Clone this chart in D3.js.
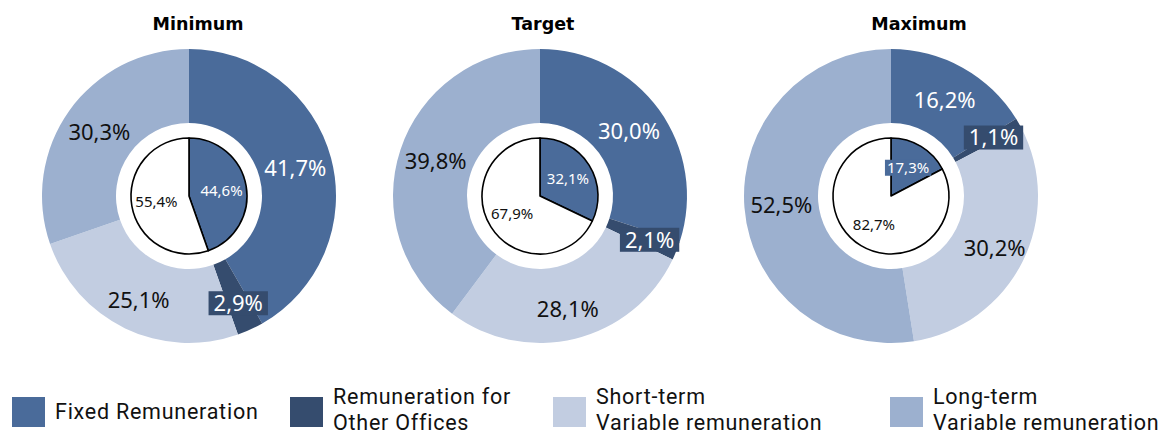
<!DOCTYPE html>
<html>
<head>
<meta charset="utf-8">
<script src="https://cdn.jsdelivr.net/npm/d3@7"></script>
<style>
  body { margin: 0; background: #fff; }
  text { font-family: 'Noto Sans', 'Open Sans', sans-serif; }
  .titulo { font-family: 'DejaVu Sans', Verdana, sans-serif; font-weight: bold; font-size: 17.5px; }
  .leyenda text { font-family: Roboto, 'Noto Sans', sans-serif; font-size: 21.5px; letter-spacing: 0.75px; }
</style>
</head>
<body>
<div id="graf"></div>
<script>
// I. Datos
categories = ['Fixed Remuneration', 'Remuneration for Other Offices',
              'Short-term Variable remuneration', 'Long-term Variable remuneration']
scenarios = ['Minimum', 'Target', 'Maximum']

minimumValues = [41.7, 2.9, 25.1, 30.3]
targetValues  = [30.0, 2.1, 28.1, 39.8]
maximumValues = [16.2, 1.1, 30.2, 52.5]

// inner pie: fixed share (fixed + other offices) vs variable share
fixedShare    = [44.6, 32.1, 17.3]
variableShare = [55.4, 67.9, 82.7]

legendLines = [['Fixed Remuneration'],
               ['Remuneration for', 'Other Offices'],
               ['Short-term', 'Variable remuneration'],
               ['Long-term', 'Variable remuneration']]

// II. Configuracion
ancho_total = 1166
alto_total = 436

colores = ['#4a6b9a', '#354c6e', '#c2cde1', '#9cb0cf']
color = d3.scaleOrdinal().domain(categories).range(colores)

rOuter = 147
rInner = 73
rPie = 58
cy = 196
labelRadius = [110, 118, 116, 110]   // per category, ring label distance from centre
titleDx = [9, 3, 28]
legendX = [12, 290, 553, 890]

x = d3.scalePoint()
      .domain(scenarios)
      .range([189, 891])

fmt = d3.formatLocale({ decimal: ',', thousands: '.', grouping: [3], currency: ['', ''] })
        .format('.1f')
pct = v => fmt(v) + '%'

svg = d3.select('#graf').append('svg')
        .attr('width', ancho_total)
        .attr('height', alto_total)
        .style('display', 'block')

pie = d3.pie().sort(null).value(d => d)
ringArc = d3.arc().innerRadius(rInner).outerRadius(rOuter)
pieArc = d3.arc().innerRadius(0).outerRadius(rPie)
pieLabelArc = d3.arc().innerRadius(0).outerRadius(66)

series = [minimumValues, targetValues, maximumValues]

// III. Dibujo
scenarios.forEach((sc, i) => {
  g = svg.append('g')
         .attr('transform', `translate(${ x(sc) }, ${ cy })`)

  svg.append('text')
     .attr('class', 'titulo')
     .attr('x', x(sc) + titleDx[i])
     .attr('y', 30)
     .attr('text-anchor', 'middle')
     .attr('fill', '#000')
     .text(sc)

  arcs = pie(series[i]).map((a, k) => Object.assign(a, { cat: categories[k], k: k }))

  g.selectAll('path.ring')
   .data(arcs)
   .enter()
   .append('path')
     .attr('class', 'ring')
     .attr('d', ringArc)
     .attr('fill', d => color(d.cat))

  // ring labels
  arcs.forEach(d => {
    mid = (d.startAngle + d.endAngle) / 2
    lx = Math.sin(mid) * labelRadius[d.k]
    ly = -Math.cos(mid) * labelRadius[d.k]
    t = g.append('text')
         .attr('x', lx)
         .attr('y', ly)
         .attr('dy', '0.36em')
         .attr('text-anchor', 'middle')
         .style('font-size', '22px')
         .attr('fill', d.k < 2 ? '#fff' : '#111')
         .text(pct(d.value))
    if (d.k == 1) {
      bb = t.node().getBBox()
      g.insert('rect', () => t.node())
       .attr('x', bb.x - 5)
       .attr('y', ly - 12)
       .attr('width', bb.width + 10)
       .attr('height', 24)
       .attr('fill', color(d.cat))
    }
  })

  // inner pie
  inner = pie([fixedShare[i], variableShare[i]])
  g.selectAll('path.inner')
   .data(inner)
   .enter()
   .append('path')
     .attr('class', 'inner')
     .attr('d', pieArc)
     .attr('fill', (d, k) => k == 0 ? color(categories[0]) : '#fff')
     .attr('stroke', '#000')
     .attr('stroke-width', 1.6)
     .attr('stroke-linejoin', 'round')

  inner.forEach((d, k) => {
    c = pieLabelArc.centroid(d)
    t = g.append('text')
         .attr('x', c[0])
         .attr('y', c[1])
         .attr('dy', '0.36em')
         .attr('text-anchor', 'middle')
         .style('font-size', '15px')
         .attr('fill', k == 0 ? '#fff' : '#111')
         .text(pct(d.value))
    // small fixed slice: the label spills over the edge, give it a backing box
    if (k == 0 && d.value < 20) {
      bb = t.node().getBBox()
      g.insert('rect', () => t.node())
       .attr('x', bb.x - 2)
       .attr('y', c[1] - 8)
       .attr('width', bb.width + 4)
       .attr('height', 16)
       .attr('fill', color(categories[0]))
    }
  })
})

// IV. Leyenda
leyenda = svg.append('g').attr('class', 'leyenda')

categories.forEach((cat, i) => {
  item = leyenda.append('g')
                .attr('transform', `translate(${ legendX[i] }, 0)`)
  item.append('rect')
      .attr('x', 0)
      .attr('y', 397)
      .attr('width', 33)
      .attr('height', 30)
      .attr('fill', color(cat))
  lines = legendLines[i]
  first = lines.length == 1 ? 419 : 404
  lines.forEach((ln, j) => {
    item.append('text')
        .attr('x', 43)
        .attr('y', first + j * 25.5)
        .attr('fill', '#111')
        .text(ln)
  })
})
</script>
</body>
</html>
